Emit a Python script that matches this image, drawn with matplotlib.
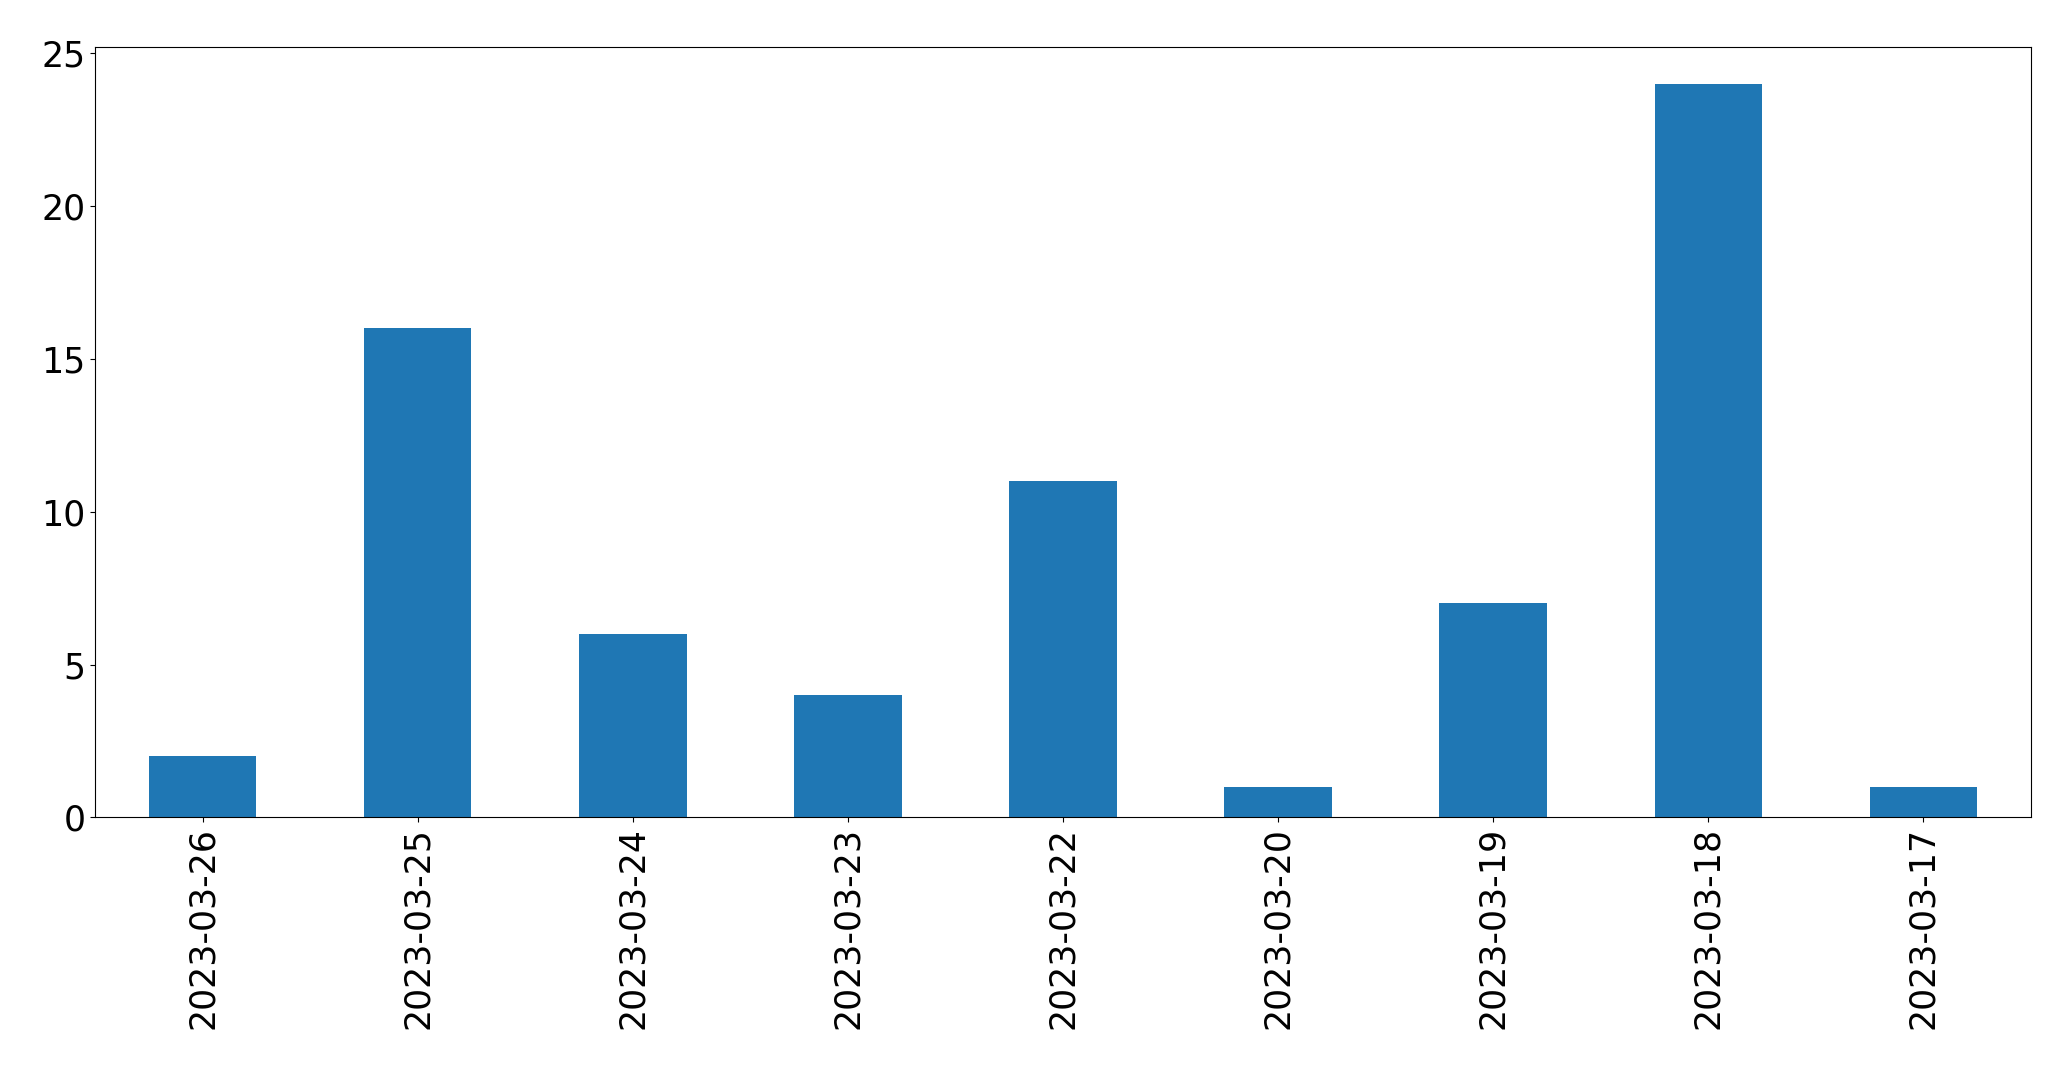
import matplotlib
matplotlib.use('Agg')
import matplotlib.pyplot as plt
import numpy as np

# daily counts, newest first
dates = ['2023-03-26', '2023-03-25', '2023-03-24', '2023-03-23', '2023-03-22',
         '2023-03-20', '2023-03-19', '2023-03-18', '2023-03-17']
counts = [2, 16, 6, 4, 11, 1, 7, 24, 1]

fig = plt.figure(figsize=(20.71, 10.69), dpi=100)
fig.subplots_adjust(left=95 / 2071, right=2031 / 2071,
                    top=1 - 47.3 / 1069, bottom=1 - 817.3 / 1069)
ax = fig.add_subplot(111)

ind = np.arange(len(dates))
ax.bar(ind, counts, 0.5, color='#1f77b4')
ax.set_xlim(-0.5, len(dates) - 0.5)
ax.set_ylim(0, max(counts) * 1.05)
ax.set_xticks(ind)
ax.set_xticklabels(dates, rotation=90)
ax.tick_params(labelsize=25)

plt.savefig('out.png', dpi=100)
